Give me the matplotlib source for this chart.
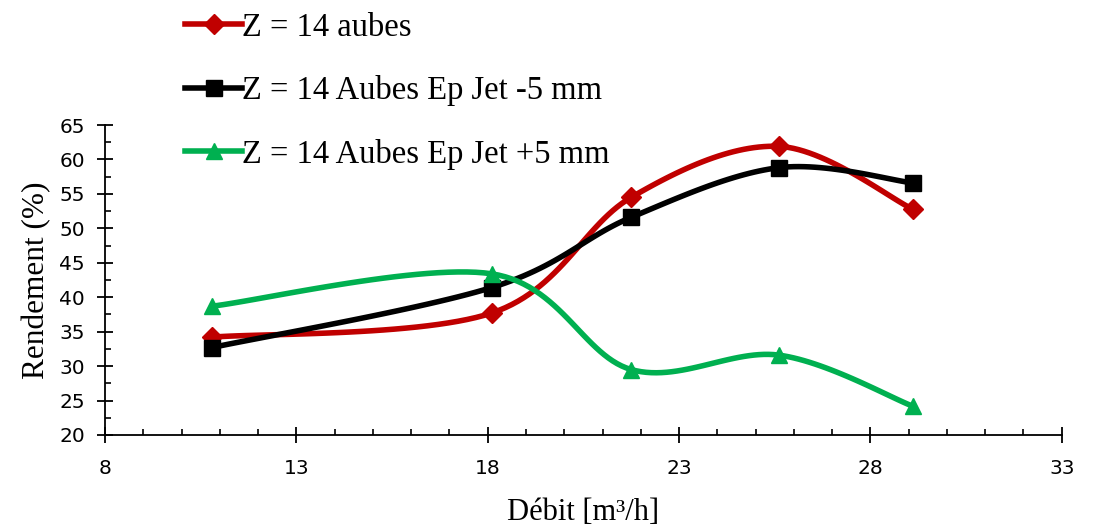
import numpy as np
import matplotlib.pyplot as plt
from matplotlib.ticker import MultipleLocator, FixedLocator

# Données
debit = [10.8, 18.1, 21.75, 25.6, 29.1]
z14 = [34.2, 37.7, 54.5, 61.9, 52.8]
z14_moins5 = [32.7, 41.4, 51.6, 58.8, 56.6]
z14_plus5 = [38.7, 43.4, 29.5, 31.6, 24.2]

labels = ['Z = 14 aubes', 'Z = 14 Aubes Ep Jet -5 mm', 'Z = 14 Aubes Ep Jet +5 mm']
couleurs = ['#C00000', '#000000', '#00B050']
marqueurs = ['D', 's', '^']
tailles = [10, 11, 11]


def lisser(x, y, sx=38.3, sy=6.9, n=30):
    # courbe lissée type Excel (Catmull-Rom / Bezier), calculée en pixels
    p = np.column_stack([np.asarray(x) * sx, np.asarray(y) * sy])
    p = np.vstack([p[0], p, p[-1]])
    pts = []
    t = np.linspace(0, 1, n)[:, None]
    for i in range(1, len(p) - 2):
        p0, p1, p2, p3 = p[i - 1], p[i], p[i + 1], p[i + 2]
        c1 = p1 + (p2 - p0) / 6
        c2 = p2 - (p3 - p1) / 6
        b = (1 - t) ** 3 * p1 + 3 * (1 - t) ** 2 * t * c1 + 3 * (1 - t) * t ** 2 * c2 + t ** 3 * p2
        pts.append(b if i == 1 else b[1:])
    pts = np.vstack(pts)
    return pts[:, 0] / sx, pts[:, 1] / sy


fig = plt.figure(figsize=(10.98, 5.29), dpi=100)
ax = fig.add_axes([0.0956, 0.1777, 0.8714, 0.586])

for y, c, m, s, lab in zip([z14, z14_moins5, z14_plus5], couleurs, marqueurs, tailles, labels):
    xs, ys = lisser(debit, y)
    ax.plot(xs, ys, color=c, lw=4, solid_capstyle='round')
    ax.plot(debit, y, ls='none', marker=m, color=c, ms=s)
    ax.plot([], [], color=c, lw=4, marker=m, ms=s, label=lab)

ax.set_xlim(8, 33)
ax.set_ylim(20, 65)
ax.xaxis.set_major_locator(FixedLocator([8, 13, 18, 23, 28, 33]))
ax.xaxis.set_minor_locator(MultipleLocator(1))
ax.yaxis.set_major_locator(MultipleLocator(5))
ax.yaxis.set_minor_locator(MultipleLocator(2.5))
ax.tick_params(which='major', direction='inout', length=11, width=1.3, labelsize=14.5, pad=9)
ax.tick_params(axis='x', which='major', pad=12)
ax.tick_params(which='minor', direction='in', length=4.5, width=1.2)
ax.spines['top'].set_visible(False)
ax.spines['right'].set_visible(False)
ax.spines['left'].set_linewidth(1.3)
ax.spines['bottom'].set_linewidth(1.3)

ax.set_xlabel('Débit [m³/h]', fontfamily='Liberation Serif', fontsize=22, labelpad=14)
ax.set_ylabel('Rendement (%)', fontfamily='Liberation Serif', fontsize=22.5, labelpad=6)

fig.legend(loc='upper left', bbox_to_anchor=(185 / 1098, 1 - 12 / 529), frameon=False,
           prop={'family': 'Liberation Serif', 'size': 23.5}, handlelength=1.75,
           handletextpad=0.0, labelspacing=1.0, borderpad=0, borderaxespad=0)

fig.savefig('out.png', dpi=100)
